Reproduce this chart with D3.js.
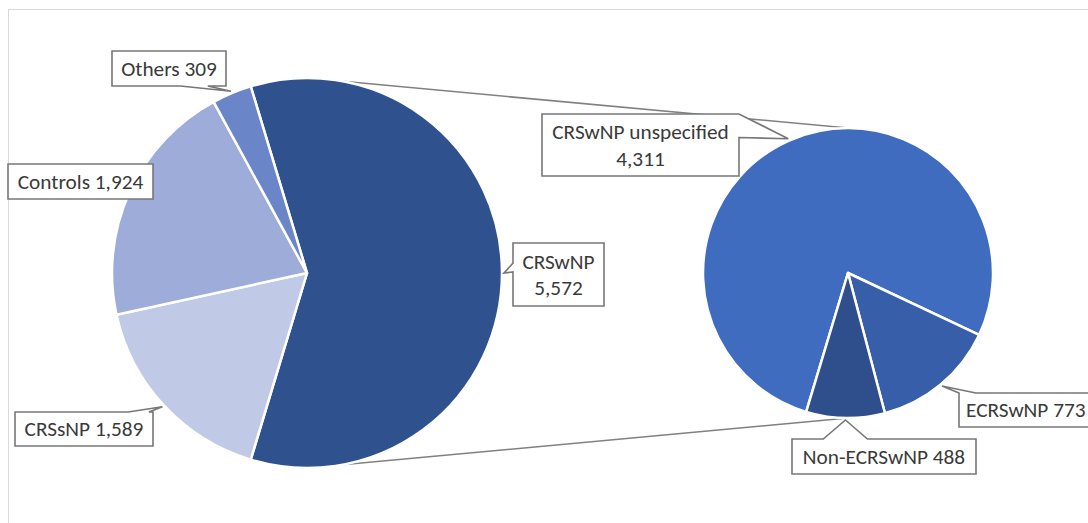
<!DOCTYPE html>
<html>
<head>
<meta charset="utf-8">
<script src="https://cdn.jsdelivr.net/npm/d3@7"></script>
<style>
  html, body { margin: 0; padding: 0; background: #fff; }
  svg { display: block; }
  text { font-family: Carlito, Lato, "Liberation Sans", sans-serif; fill: #3A3A3A; }
</style>
</head>
<body>
<svg id="chart" width="1088" height="523"></svg>
<script>
// ---- data ----
const categories = ["CRSwNP", "CRSsNP", "Controls", "Others"];
const values = [5572, 1589, 1924, 309];
const subCategories = ["CRSwNP unspecified", "ECRSwNP", "Non-ECRSwNP"];
const subValues = [4311, 773, 488];

// ---- styles / layout (not data) ----
const mainColors = ["#2F528F", "#C0C9E5", "#9DACD8", "#6A86C8"];
const subColors = ["#3F6CBF", "#375EA9", "#2E4F8C"];
const leftPie = { cx: 307, cy: 273, r: 195 };
const rightPie = { cx: 848, cy: 273, r: 145 };
const fontSize = 21.3;

// label box layout: [x, y, w, h], pointer side & base fractions, line breaks
const mainLabelLayout = [
  { box: [513, 243, 91, 63], side: "left", base: [0.32, 0.46], multiline: true },
  { box: [15, 412, 138, 34], side: "top", base: [0.82, 0.97], multiline: false },
  { box: [8, 164, 145, 35], side: null, multiline: false },
  { box: [112, 51, 114, 35], side: "bottom", base: [0.6, 0.84], multiline: false }
];
const subLabelLayout = [
  { box: [542, 114, 197, 62], side: "right", base: [0.0, 0.38], multiline: true },
  { box: [959, 393, 140, 34], side: "top", base: [0.0, 0.12], multiline: false, textX: 966 },
  { box: [792, 439, 184, 35], side: "top", base: [0.17, 0.41], multiline: false }
];

const svg = d3.select("#chart");
const fmt = d3.format(",");

// frame
svg.append("rect")
  .attr("x", 8.5).attr("y", 9.5).attr("width", 1100).attr("height", 540)
  .attr("fill", "none").attr("stroke", "#D9D9D9").attr("stroke-width", 1);

const total = d3.sum(values);
const share = values[0] / total;
const a0 = Math.PI / 2 - share * Math.PI;
const pieMain = d3.pie().sort(null).value(d => d).startAngle(a0).endAngle(a0 + 2 * Math.PI);
const mainArcs = pieMain(values);
const subStart = a0 + share * 2 * Math.PI;
const pieSub = d3.pie().sort(null).value(d => d).startAngle(subStart).endAngle(subStart + 2 * Math.PI);
const subArcs = pieSub(subValues);

function pt(p, ang, rr) {
  const r = rr === undefined ? p.r : rr;
  return [p.cx + r * Math.sin(ang), p.cy - r * Math.cos(ang)];
}

// series lines (connectors)
const connectors = [
  [pt(leftPie, 0.185), pt(rightPie, 0)],
  [pt(leftPie, Math.PI - 0.182), pt(rightPie, Math.PI)]
];
svg.selectAll("line.series").data(connectors).enter().append("line")
  .attr("class", "series")
  .attr("x1", d => d[0][0]).attr("y1", d => d[0][1])
  .attr("x2", d => d[1][0]).attr("y2", d => d[1][1])
  .attr("stroke", "#808080").attr("stroke-width", 1.6);

const arcMain = d3.arc().innerRadius(0).outerRadius(leftPie.r);
const arcSub = d3.arc().innerRadius(0).outerRadius(rightPie.r);

svg.append("g").attr("transform", `translate(${leftPie.cx},${leftPie.cy})`)
  .selectAll("path").data(mainArcs).enter().append("path")
  .attr("d", arcMain)
  .attr("fill", (d, i) => mainColors[i])
  .attr("stroke", "#fff").attr("stroke-width", 2.5).attr("stroke-linejoin", "round");

svg.append("g").attr("transform", `translate(${rightPie.cx},${rightPie.cy})`)
  .selectAll("path").data(subArcs).enter().append("path")
  .attr("d", arcSub)
  .attr("fill", (d, i) => subColors[i])
  .attr("stroke", "#fff").attr("stroke-width", 2.5).attr("stroke-linejoin", "round");

// callout path
function callout(box, side, base, tip) {
  const [x, y, w, h] = box;
  const x2 = x + w, y2 = y + h;
  if (!side) return `M${x},${y}H${x2}V${y2}H${x}Z`;
  const [f0, f1] = base;
  if (side === "top") {
    const b0 = x + f0 * w, b1 = x + f1 * w;
    return `M${x},${y}H${b0}L${tip[0]},${tip[1]}L${b1},${y}H${x2}V${y2}H${x}Z`;
  }
  if (side === "bottom") {
    const b0 = x + f0 * w, b1 = x + f1 * w;
    return `M${x},${y}H${x2}V${y2}H${b1}L${tip[0]},${tip[1]}L${b0},${y2}H${x}Z`;
  }
  if (side === "left") {
    const b0 = y + f0 * h, b1 = y + f1 * h;
    return `M${x},${y}H${x2}V${y2}H${x}V${b1}L${tip[0]},${tip[1]}L${x},${b0}Z`;
  }
  if (side === "right") {
    const b0 = y + f0 * h, b1 = y + f1 * h;
    return `M${x},${y}H${x2}V${b0}L${tip[0]},${tip[1]}L${x2},${b1}V${y2}H${x}Z`;
  }
}

function drawLabels(arcs, names, vals, layout, pie) {
  const g = svg.append("g");
  arcs.forEach((a, i) => {
    const L = layout[i];
    const mid = (a.startAngle + a.endAngle) / 2;
    const tip = pt(pie, mid, pie.r + 2);
    g.append("path")
      .attr("d", callout(L.box, L.side, L.base, tip))
      .attr("fill", "#fff").attr("stroke", "#777").attr("stroke-width", 1.6)
      .attr("stroke-linejoin", "miter");
    const [x, y, w, h] = L.box;
    const lines = L.multiline ? [names[i], fmt(vals[i])] : [names[i] + " " + fmt(vals[i])];
    const lh = 26.5;
    const anchorStart = L.textX !== undefined;
    const t = g.append("text")
      .attr("text-anchor", anchorStart ? "start" : "middle")
      .style("font-size", fontSize + "px");
    lines.forEach((ln, k) => {
      t.append("tspan")
        .attr("x", anchorStart ? L.textX : x + w / 2)
        .attr("y", y + h / 2 + (k - (lines.length - 1) / 2) * lh)
        .attr("dy", "0.35em")
        .text(ln);
    });
  });
}

drawLabels(mainArcs, categories, values, mainLabelLayout, leftPie);
drawLabels(subArcs, subCategories, subValues, subLabelLayout, rightPie);
</script>
</body>
</html>
